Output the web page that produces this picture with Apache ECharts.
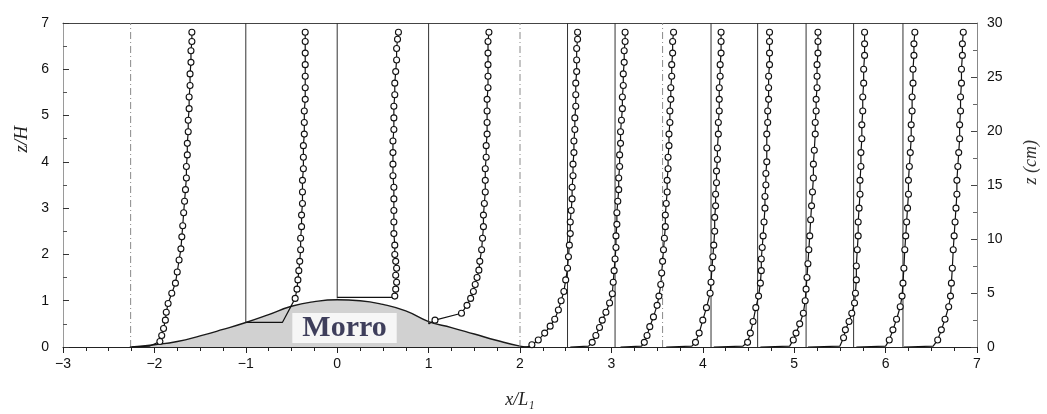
<!DOCTYPE html>
<html>
<head>
<meta charset="utf-8">
<script src="https://cdn.jsdelivr.net/npm/echarts@6/dist/echarts.min.js"></script>
<style>
  html, body { margin: 0; padding: 0; background: #fff; }
  #main { width: 1047px; height: 414px; }
</style>
</head>
<body>
<div id="main"></div>
<script>
// hill (Morro) profile, z/H against x/L1
var hillX = [-2.25, -2, -1.75, -1.5, -1.25, -1, -0.75, -0.5, -0.25, 0, 0.25, 0.5, 0.75, 1, 1.25, 1.5, 1.75, 2, 2.1];
var hillZ = [0, 0.05, 0.12, 0.24, 0.38, 0.53, 0.7, 0.88, 0.98, 1.02, 1.0, 0.92, 0.78, 0.55, 0.42, 0.28, 0.14, 0.02, 0];

// zero-velocity reference line of each station
var stationX = [-2.26, -1, 0, 1, 2, 2.52, 3.04, 3.56, 4.09, 4.6, 5.13, 5.65, 6.19];
var stationBase = [0, 0.53, 1.05, 0.5, 0, 0, 0, 0, 0, 0, 0, 0, 0];
var stationDashed = [true, false, false, false, true, false, false, true, false, false, false, false, false];

// line lead-in near the ground (no markers)
var leads = [
  [[-2.27, 0], [-2.05, 0.02]],
  [[-1, 0.53], [-0.6, 0.53], [-0.5, 0.9]],
  [[0, 1.07], [0.6, 1.07]],
  [[1, 0.5]],
  [[2.0, 0], [2.08, 0]],
  [[2.55, 0], [2.75, 0.02]],
  [[3.1, 0], [3.33, 0.02]],
  [[3.6, 0], [3.88, 0.02]],
  [[4.12, 0], [4.44, 0.02]],
  [[4.63, 0], [4.95, 0.02]],
  [[5.15, 0], [5.5, 0.02]],
  [[5.68, 0], [6.0, 0.02]],
  [[6.2, 0], [6.52, 0.02]]
];

// measured profiles [x/L1, z/H]
var p1 = [[-1.94,0.12],[-1.92,0.25],[-1.9,0.4],[-1.88,0.58],[-1.87,0.75],[-1.85,0.94],[-1.81,1.16],[-1.77,1.38],[-1.75,1.62],[-1.73,1.88],[-1.71,2.12],[-1.7,2.38],[-1.69,2.62],[-1.68,2.9],[-1.67,3.15],[-1.66,3.4],[-1.65,3.65],[-1.65,3.9],[-1.64,4.15],[-1.64,4.4],[-1.63,4.65],[-1.63,4.9],[-1.62,5.15],[-1.62,5.4],[-1.61,5.65],[-1.61,5.9],[-1.6,6.15],[-1.6,6.4],[-1.59,6.6],[-1.59,6.8]];
var p2 = [[-0.46,1.05],[-0.44,1.25],[-0.43,1.45],[-0.42,1.65],[-0.41,1.85],[-0.4,2.1],[-0.4,2.35],[-0.39,2.6],[-0.39,2.85],[-0.38,3.1],[-0.38,3.35],[-0.38,3.6],[-0.37,3.85],[-0.37,4.1],[-0.37,4.35],[-0.36,4.6],[-0.36,4.85],[-0.36,5.1],[-0.35,5.35],[-0.35,5.6],[-0.35,5.85],[-0.35,6.1],[-0.35,6.35],[-0.35,6.6],[-0.35,6.8]];
var p3 = [[0.63,1.1],[0.64,1.25],[0.65,1.4],[0.64,1.55],[0.65,1.7],[0.64,1.85],[0.63,2.0],[0.63,2.2],[0.62,2.45],[0.62,2.7],[0.62,2.95],[0.62,3.2],[0.62,3.45],[0.61,3.7],[0.61,3.95],[0.61,4.2],[0.61,4.45],[0.62,4.7],[0.62,4.95],[0.62,5.2],[0.63,5.45],[0.63,5.7],[0.64,5.95],[0.65,6.2],[0.65,6.45],[0.66,6.65],[0.67,6.8]];
var p4 = [[1.07,0.58],[1.36,0.73],[1.42,0.9],[1.46,1.05],[1.49,1.2],[1.51,1.35],[1.53,1.5],[1.55,1.66],[1.56,1.85],[1.58,2.1],[1.59,2.35],[1.6,2.6],[1.6,2.85],[1.61,3.1],[1.62,3.35],[1.62,3.6],[1.62,3.85],[1.63,4.1],[1.63,4.35],[1.64,4.6],[1.64,4.85],[1.64,5.1],[1.64,5.35],[1.65,5.6],[1.65,5.85],[1.65,6.1],[1.65,6.35],[1.65,6.6],[1.66,6.8]];
var p5 = [[2.13,0.05],[2.2,0.15],[2.27,0.3],[2.33,0.45],[2.38,0.6],[2.42,0.8],[2.45,1.0],[2.48,1.2],[2.5,1.45],[2.52,1.7],[2.53,1.95],[2.54,2.2],[2.55,2.45],[2.55,2.7],[2.56,2.95],[2.57,3.2],[2.57,3.45],[2.58,3.7],[2.58,3.95],[2.59,4.2],[2.59,4.45],[2.6,4.7],[2.6,4.95],[2.61,5.2],[2.61,5.45],[2.61,5.7],[2.62,5.95],[2.62,6.2],[2.62,6.45],[2.63,6.65],[2.63,6.8]];
var p6 = [[2.79,0.1],[2.83,0.25],[2.87,0.42],[2.9,0.58],[2.94,0.75],[2.98,0.95],[3.01,1.15],[3.02,1.4],[3.03,1.65],[3.04,1.9],[3.05,2.15],[3.05,2.4],[3.06,2.65],[3.06,2.9],[3.07,3.15],[3.08,3.4],[3.08,3.65],[3.09,3.9],[3.09,4.15],[3.1,4.4],[3.1,4.65],[3.11,4.9],[3.12,5.15],[3.12,5.4],[3.13,5.65],[3.13,5.9],[3.14,6.15],[3.14,6.4],[3.15,6.6],[3.15,6.8]];
var p7 = [[3.36,0.1],[3.39,0.25],[3.42,0.44],[3.46,0.65],[3.5,0.9],[3.52,1.1],[3.54,1.35],[3.55,1.6],[3.56,1.85],[3.57,2.1],[3.58,2.35],[3.59,2.6],[3.59,2.85],[3.6,3.1],[3.61,3.35],[3.61,3.6],[3.62,3.85],[3.62,4.1],[3.63,4.35],[3.63,4.6],[3.64,4.85],[3.64,5.1],[3.65,5.35],[3.65,5.6],[3.66,5.85],[3.66,6.1],[3.67,6.35],[3.67,6.6],[3.68,6.8]];
var p8 = [[3.92,0.1],[3.96,0.3],[4.0,0.58],[4.04,0.85],[4.08,1.16],[4.09,1.4],[4.1,1.7],[4.11,1.95],[4.12,2.2],[4.13,2.5],[4.13,2.8],[4.14,3.05],[4.14,3.3],[4.15,3.55],[4.15,3.8],[4.16,4.05],[4.16,4.3],[4.17,4.6],[4.17,4.85],[4.18,5.1],[4.18,5.35],[4.18,5.6],[4.19,5.85],[4.19,6.1],[4.2,6.35],[4.2,6.6],[4.2,6.8]];
var p9 = [[4.49,0.1],[4.52,0.3],[4.55,0.55],[4.58,0.85],[4.61,1.1],[4.63,1.38],[4.64,1.65],[4.64,1.9],[4.65,2.15],[4.66,2.4],[4.67,2.7],[4.68,3.0],[4.68,3.25],[4.69,3.5],[4.69,3.75],[4.7,4.0],[4.7,4.3],[4.7,4.6],[4.71,4.85],[4.71,5.1],[4.72,5.35],[4.72,5.6],[4.72,5.85],[4.73,6.1],[4.73,6.35],[4.73,6.6],[4.73,6.8]];
var p10 = [[4.99,0.15],[5.02,0.3],[5.06,0.5],[5.1,0.73],[5.12,1.0],[5.13,1.25],[5.14,1.5],[5.15,1.8],[5.16,2.1],[5.17,2.4],[5.18,2.75],[5.19,3.05],[5.2,3.35],[5.21,3.65],[5.21,3.95],[5.22,4.25],[5.23,4.6],[5.23,4.85],[5.24,5.1],[5.24,5.35],[5.25,5.6],[5.25,5.85],[5.25,6.1],[5.26,6.35],[5.26,6.6],[5.26,6.8]];
var p11 = [[5.54,0.2],[5.56,0.37],[5.6,0.55],[5.63,0.73],[5.66,0.95],[5.67,1.16],[5.68,1.45],[5.68,1.75],[5.69,2.1],[5.7,2.4],[5.7,2.7],[5.71,3.0],[5.72,3.3],[5.72,3.6],[5.73,3.9],[5.73,4.2],[5.74,4.5],[5.74,4.8],[5.75,5.1],[5.75,5.4],[5.76,5.7],[5.76,6.0],[5.77,6.3],[5.77,6.55],[5.77,6.8]];
var p12 = [[6.04,0.15],[6.08,0.37],[6.12,0.6],[6.16,0.87],[6.18,1.1],[6.19,1.38],[6.2,1.7],[6.21,2.1],[6.22,2.4],[6.23,2.7],[6.24,3.0],[6.25,3.3],[6.25,3.6],[6.26,3.9],[6.27,4.2],[6.28,4.5],[6.28,4.8],[6.29,5.1],[6.29,5.4],[6.3,5.7],[6.3,6.0],[6.31,6.3],[6.31,6.55],[6.32,6.8]];
var p13 = [[6.57,0.15],[6.61,0.37],[6.65,0.6],[6.69,0.87],[6.71,1.1],[6.72,1.38],[6.73,1.7],[6.74,2.1],[6.75,2.4],[6.76,2.7],[6.77,3.0],[6.78,3.3],[6.78,3.6],[6.79,3.9],[6.8,4.2],[6.81,4.5],[6.81,4.8],[6.82,5.1],[6.82,5.4],[6.83,5.7],[6.83,6.0],[6.84,6.3],[6.84,6.55],[6.85,6.8]];
var profiles = [p1, p2, p3, p4, p5, p6, p7, p8, p9, p10, p11, p12, p13];

var labelPos = [0.08, 0.41];

var myChart = echarts.init(document.getElementById('main'));

var tickFont = { color: '#111', fontSize: 14, fontFamily: 'Liberation Sans' };
var seriesArr = [];

// hill
seriesArr.push({
  type: 'line',
  data: hillX.map(function (x, i) { return [x, hillZ[i]]; }),
  smooth: true,
  symbol: 'none',
  lineStyle: { color: '#1a1a1a', width: 1.4 },
  areaStyle: { color: '#bdbdbd', origin: 'start' },
  z: 1,
  silent: true
});

// reference lines
stationX.forEach(function (x, i) {
  seriesArr.push({
    type: 'line',
    data: [[x, stationBase[i]], [x, 7]],
    symbol: 'none',
    lineStyle: stationDashed[i]
      ? { color: '#8a8a8a', width: 1, type: [7, 3, 1, 3] }
      : { color: '#333', width: 1 },
    z: 2,
    silent: true
  });
});

// profiles
profiles.forEach(function (p, i) {
  var data = leads[i].map(function (q) { return { value: q, symbol: 'none' }; }).concat(p);
  seriesArr.push({
    type: 'line',
    data: data,
    symbol: 'circle',
    symbolSize: 6,
    showAllSymbol: true,
    lineStyle: { color: '#111', width: 1.2 },
    itemStyle: { color: '#fff', borderColor: '#111', borderWidth: 1.1 },
    z: 3,
    silent: true
  });
});

// hill label
seriesArr.push({
  type: 'scatter',
  data: [labelPos],
  symbolSize: 1,
  itemStyle: { color: 'rgba(0,0,0,0)' },
  label: {
    show: true,
    position: 'inside',
    formatter: 'Morro',
    fontFamily: 'Liberation Serif',
    fontWeight: 'bold',
    fontSize: 30,
    lineHeight: 30,
    color: '#101034',
    textShadowColor: 'rgba(180,110,30,0.7)',
    textShadowOffsetX: 1,
    textShadowOffsetY: 0,
    backgroundColor: '#fff',
    padding: [0, 10]
  },
  z: 5,
  silent: true
});

var option = {
  backgroundColor: '#fff',
  animation: false,
  grid: { left: 63, right: 70, top: 23, bottom: 67 },
  xAxis: [{
    type: 'value', min: -3, max: 7, interval: 1,
    name: 'x/L\u2081', nameLocation: 'middle', nameGap: 44,
    nameTextStyle: { fontFamily: 'Liberation Serif', fontStyle: 'italic', fontSize: 18, color: '#222' },
    axisLine: { onZero: false, lineStyle: { color: '#222', width: 1 } },
    axisTick: { inside: false, length: 6, lineStyle: { color: '#222' } },
    minorTick: { show: true, splitNumber: 4, length: 4, lineStyle: { color: '#222' } },
    axisLabel: Object.assign({ margin: 10, formatter: function (v) { return String(v).replace('-', '\u2212'); } }, tickFont),
    splitLine: { show: false }
  }, {
    type: 'value', min: -3, max: 7, position: 'top',
    axisLine: { onZero: false, lineStyle: { color: '#444', width: 1 } },
    axisTick: { show: false }, axisLabel: { show: false }, splitLine: { show: false }
  }],
  yAxis: [{
    type: 'value', min: 0, max: 7, interval: 1, position: 'left',
    axisLine: { show: true, onZero: false, lineStyle: { color: '#9a9a9a', width: 1 } },
    axisTick: { inside: true, length: 6, lineStyle: { color: '#333' } },
    minorTick: { show: true, splitNumber: 2, length: 4, lineStyle: { color: '#555' } },
    axisLabel: Object.assign({ margin: 14 }, tickFont),
    splitLine: { show: false }
  }, {
    type: 'value', min: 0, max: 30, interval: 5, position: 'right',
    axisLine: { show: true, onZero: false, lineStyle: { color: '#888', width: 1 } },
    axisTick: { inside: true, length: 6, lineStyle: { color: '#444' } },
    minorTick: { show: true, splitNumber: 2, length: 4, lineStyle: { color: '#666' } },
    axisLabel: Object.assign({ margin: 10 }, tickFont),
    splitLine: { show: false }
  }],
  graphic: [{
    type: 'text', left: 12, top: 126, rotation: Math.PI / 2,
    style: { text: 'z/H', fontFamily: 'Liberation Serif', fontStyle: 'italic', fontSize: 19, fill: '#222' }
  }, {
    type: 'text', left: 1022, top: 140, rotation: Math.PI / 2,
    style: { text: 'z (cm)', fontFamily: 'Liberation Serif', fontStyle: 'italic', fontSize: 18, fill: '#333' }
  }],
  series: seriesArr
};
myChart.setOption(option);
</script>
</body>
</html>
